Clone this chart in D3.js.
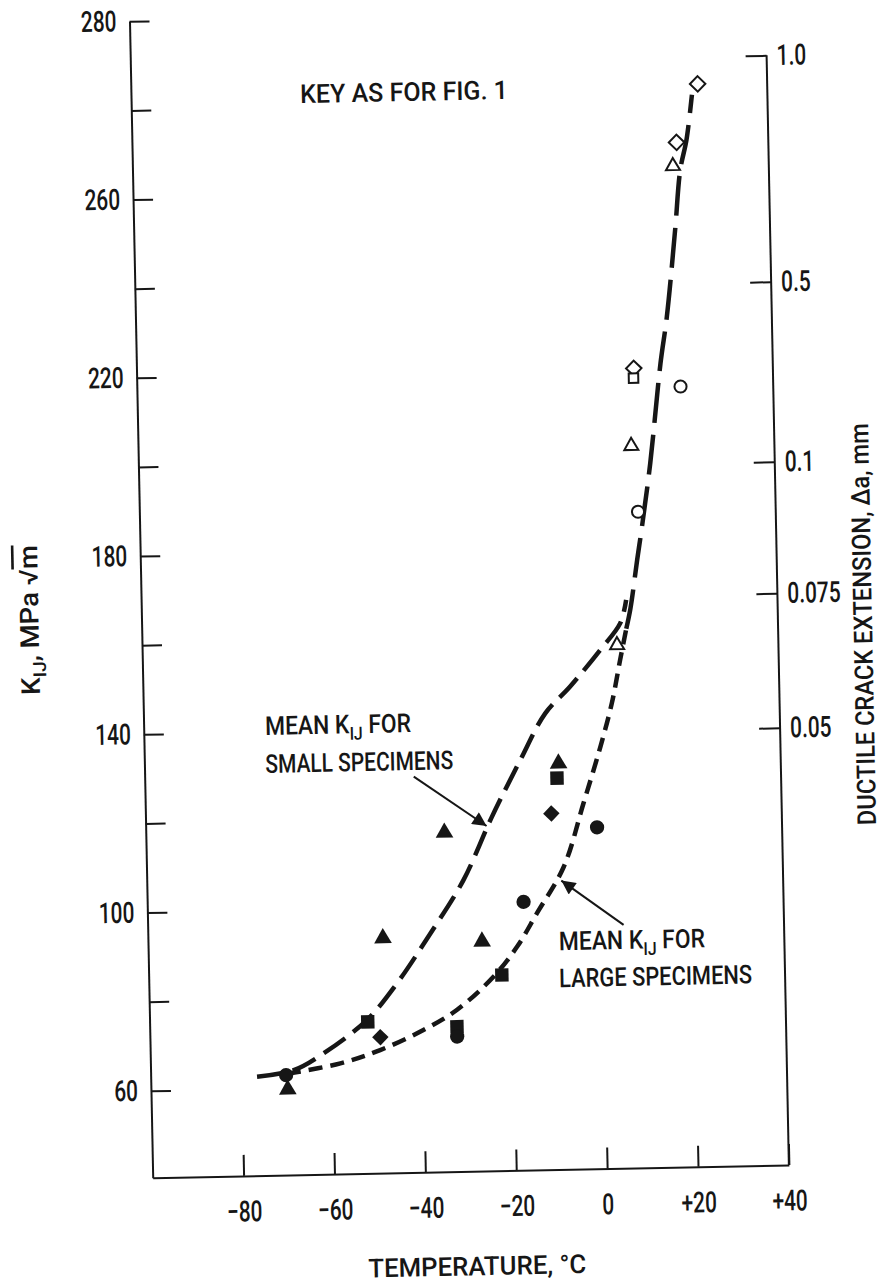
<!DOCTYPE html>
<html>
<head>
<meta charset="utf-8">
<script src="https://cdn.jsdelivr.net/npm/d3@7"></script>
<style>
  body { margin: 0; background: #fff; }
  svg { display: block; }
  text { font-family: Roboto, "DejaVu Sans", sans-serif; font-weight: 500; fill: #161616; }
</style>
</head>
<body>
<svg id="chart" width="882" height="1285"></svg>
<script>
// temperature (deg C) / K_IJ (MPa sqrt m)
const filledTriangles = [[-8.9, 131.6], [-34.3, 116.6], [-48.3, 93.2], [-26.5, 92.0], [-69.9, 59.7]];
const filledSquares   = [[-9.3, 128.3], [-22.3, 84.4], [-52.0, 74.5], [-32.4, 73.0]];
const filledDiamonds  = [[-10.7, 120.4], [-49.3, 71.0]];
const filledCircles   = [[-0.7, 117.1], [-17.2, 100.7], [-32.4, 70.8], [-70.2, 62.9]];
const openDiamonds    = [[24.7, 283.4], [19.8, 270.4], [9.4, 219.9]];
const openSquares     = [[9.3, 217.7]];
const openTriangles   = [[18.9, 265.1], [8.5, 202.5], [4.5, 157.9]];
const openCircles     = [[19.6, 215.6], [9.7, 187.7]];

// mean curves
const smallCurve = [[-76.6, 62.7], [-68.5, 64.0], [-61.9, 67.6], [-52.2, 74.9], [-45.4, 83.0],
  [-37.8, 94.1], [-30.3, 105.9], [-23.9, 119.7], [-17.3, 132.5], [-11.6, 142.9], [-6.0, 148.8],
  [0.8, 156.9], [5.3, 162.8], [6.7, 168.0]];
const largeCurve = [[-70.0, 63.2], [-58.2, 65.3], [-49.4, 68.1], [-39.8, 72.4], [-32.3, 76.8],
  [-24.1, 84.1], [-18.8, 90.7], [-14.3, 98.1], [-8.2, 108.4], [-3.6, 122.5], [0.4, 135.2],
  [3.1, 144.9], [5.1, 154.5], [6.6, 161.5]];
const ductileCurve = [[6.6, 161.5], [7.6, 166.0], [9.3, 176.9], [10.5, 184.3], [12.6, 198.5],
  [15.3, 220.9], [16.9, 231.3], [19.1, 250.7], [20.5, 264.2], [22.0, 270.9], [23.4, 281.0]];

// axes
const xTicks = [-80, -60, -40, -20, 0, 20, 40];
const xTickLabels = ["\u221280", "\u221260", "\u221240", "\u221220", "0", "+20", "+40"];
const yTicks = [60, 80, 100, 120, 140, 160, 180, 200, 220, 240, 260, 280, 300];
const yLabelValues = [60, 100, 140, 180, 220, 260, 300];
const yLabelText = ["60", "100", "140", "180", "220", "260", "280"];
const daTicks = [0.05, 0.075, 0.1, 0.5, 1.0];
const daTickLabels = ["0.05", "0.075", "0.1", "0.5", "1.0"];
const daAsK = [138.6, 168.8, 198.3, 238.7, 289.5];   // where each crack extension sits on the K scale

const W = 636.3, H = 1156.6;
const ink = '#161616';
const svg = d3.select('#chart');

// the scanned figure is tilted a little, so is the whole plot
const g = svg.append('g')
  .attr('transform', `rotate(-1.15,152.7,1177.7) translate(152.7,${1177.7 - H})`);

const xScale = d3.scaleLinear().domain([-100, 40]).range([0, W]);
const yScale = d3.scaleLinear().domain([40.5, 300]).range([H, 0]);
const daScale = d3.scaleLinear().domain(daTicks).range(daAsK.map(yScale));

// narrow lettering: squeeze text sideways about its anchor
const tickSqueeze = 0.72;
function squeezeTicks(axisG) {
  axisG.selectAll('.tick text').each(function () {
    const t = d3.select(this);
    const x = +t.attr('x') || 0;
    t.attr('x', 0)
      .attr('transform', `translate(${x},0) scale(${tickSqueeze},1)`)
      .style('font-size', '29px')
      .style('font-family', 'Roboto, "DejaVu Sans", sans-serif')
      .style('font-weight', 500)
      .attr('fill', ink);
  });
}

// left axis
const yAxis = d3.axisLeft(yScale)
  .tickValues(yTicks)
  .tickSizeInner(-20).tickSizeOuter(0).tickPadding(13)
  .tickFormat(d => {
    const i = yLabelValues.indexOf(d);
    return i < 0 ? '' : yLabelText[i];
  });
const lg = g.append('g').call(yAxis);
squeezeTicks(lg);

// bottom axis
const xAxis = d3.axisBottom(xScale)
  .tickValues(xTicks)
  .tickSizeInner(-21).tickSizeOuter(0).tickPadding(25)
  .tickFormat((d, i) => xTickLabels[i]);
const bg = g.append('g').attr('transform', `translate(0,${H})`).call(xAxis);
squeezeTicks(bg);

// right axis
const rAxis = d3.axisRight(daScale)
  .tickValues(daTicks)
  .tickSizeInner(-21).tickSizeOuter(0).tickPadding(10)
  .tickFormat((d, i) => daTickLabels[i]);
const rg = g.append('g').attr('transform', `translate(${W},0)`).call(rAxis);
rg.select('.domain').remove();
rg.append('line')
  .attr('x1', 0).attr('x2', 0)
  .attr('y1', daScale(1.0)).attr('y2', H);
squeezeTicks(rg);

g.selectAll('.domain, .tick line, line').attr('stroke', ink).attr('stroke-width', 2);

// curves
const line = d3.line()
  .x(d => xScale(d[0]))
  .y(d => yScale(d[1]))
  .curve(d3.curveCatmullRom);

g.append('path').datum(smallCurve)
  .attr('d', line).attr('fill', 'none').attr('stroke', ink)
  .attr('stroke-width', 4.5).attr('stroke-dasharray', '26,10');
g.append('path').datum(largeCurve)
  .attr('d', line).attr('fill', 'none').attr('stroke', ink)
  .attr('stroke-width', 4.5).attr('stroke-dasharray', '14,8');
g.append('path').datum(ductileCurve)
  .attr('d', line).attr('fill', 'none').attr('stroke', ink)
  .attr('stroke-width', 4.5).attr('stroke-dasharray', '40,12');

// markers
const series = [
  { data: filledTriangles, type: d3.symbolTriangle, size: 135, filled: true, rot: 0 },
  { data: filledSquares, type: d3.symbolSquare, size: 180, filled: true, rot: 0 },
  { data: filledDiamonds, type: d3.symbolSquare, size: 135, filled: true, rot: 45 },
  { data: filledCircles, type: d3.symbolCircle, size: 160, filled: true, rot: 0 },
  { data: openDiamonds, type: d3.symbolSquare, size: 120, filled: false, rot: 45 },
  { data: openSquares, type: d3.symbolSquare, size: 90, filled: false, rot: 0 },
  { data: openTriangles, type: d3.symbolTriangle, size: 85, filled: false, rot: 0 },
  { data: openCircles, type: d3.symbolCircle, size: 115, filled: false, rot: 0 }
];

series.forEach(s => {
  g.append('g').selectAll('path')
    .data(s.data)
    .join('path')
    .attr('d', d3.symbol().type(s.type).size(s.size))
    .attr('transform', d => `translate(${xScale(d[0])},${yScale(d[1])}) rotate(${s.rot})`)
    .attr('fill', s.filled ? ink : '#fff')
    .attr('stroke', ink)
    .attr('stroke-width', s.filled ? 0 : 2);
});

// arrows
svg.append('defs').append('marker')
  .attr('id', 'head')
  .attr('viewBox', '0 0 10 10')
  .attr('refX', 10).attr('refY', 5)
  .attr('markerWidth', 9).attr('markerHeight', 7)
  .attr('markerUnits', 'strokeWidth')
  .attr('orient', 'auto')
  .append('path').attr('d', 'M0,0 L10,5 L0,10 z').attr('fill', ink);

const arrows = [
  [[-40.8, 129.3], [-25.0, 117.9]],
  [[4.7, 95.1], [-8.8, 105.3]]
];
g.selectAll('.arrow')
  .data(arrows)
  .join('line')
  .attr('class', 'arrow')
  .attr('x1', d => xScale(d[0][0])).attr('y1', d => yScale(d[0][1]))
  .attr('x2', d => xScale(d[1][0])).attr('y2', d => yScale(d[1][1]))
  .attr('stroke', ink).attr('stroke-width', 2)
  .attr('marker-end', 'url(#head)');

// text helpers: build at origin, then place, turn and squeeze to the lettering width
function label(parts, size) {
  const txt = g.append('text').style('font-size', size + 'px');
  parts.forEach(p => {
    const ts = txt.append('tspan').text(p.s);
    if (p.sub) ts.style('font-size', Math.round(size * 0.68) + 'px').attr('dy', size * 0.25);
    if (p.back) ts.attr('dy', -size * 0.25);
    if (p.over) ts.style('text-decoration', 'overline');
  });
  return txt;
}
function place(txt, x, y, width, angle = 0) {
  const s = width / txt.node().getBBox().width;
  txt.attr('transform', `translate(${x},${y}) rotate(${angle}) scale(${s},1)`);
}

const subK = [{ s: 'MEAN K' }, { s: 'IJ', sub: true }, { s: ' FOR', back: true }];

place(label([{ s: 'KEY AS FOR FIG. 1' }], 26), xScale(-62.8), yScale(280.9), 208);
place(label(subK, 26), xScale(-73.3), yScale(139.3), 146);
place(label([{ s: 'SMALL SPECIMENS' }], 26), xScale(-73.4), yScale(130.8), 188);
place(label(subK, 26), xScale(-9.6), yScale(89.7), 146);
place(label([{ s: 'LARGE SPECIMENS' }], 26), xScale(-9.7), yScale(81.4), 193);

// axis titles
const xt = label([{ s: 'TEMPERATURE, \u00B0C' }], 26).attr('text-anchor', 'middle');
place(xt, xScale(-29), H + 104, 218);

const yt = label([{ s: 'K' }, { s: 'IJ', sub: true }, { s: ', MPa   \u221A', back: true }, { s: 'm', over: true }], 26)
  .attr('text-anchor', 'middle');
place(yt, -103, H - 560, 150, -90);

const rt = label([{ s: 'DUCTILE CRACK EXTENSION, \u0394a, mm' }], 26).attr('text-anchor', 'middle');
place(rt, W + 94, H - 539, 402, -90);
</script>
</body>
</html>
